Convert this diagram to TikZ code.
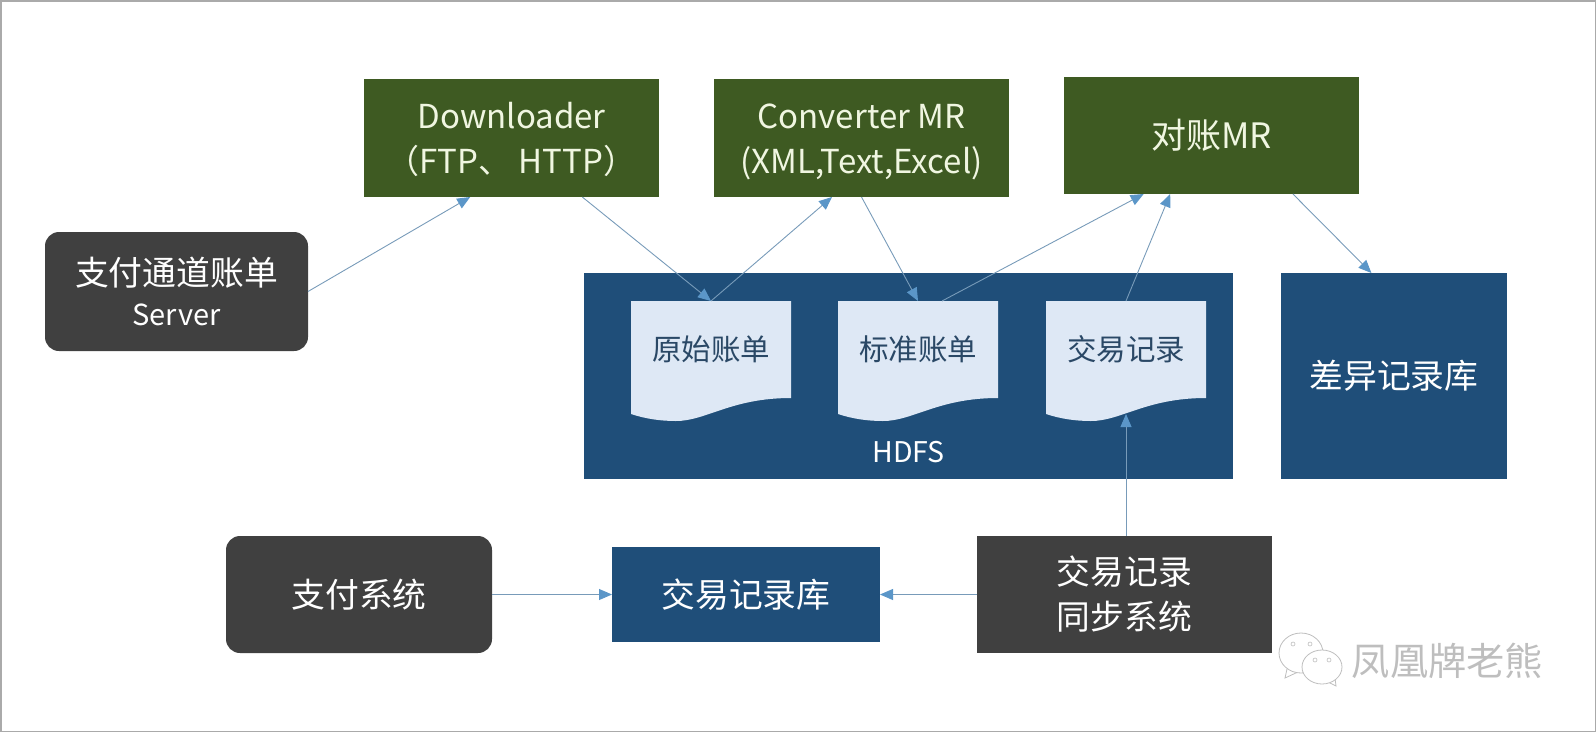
\documentclass[tikz,border=0pt]{standalone}
\usepackage{fontspec}
\setmainfont{Noto Sans CJK SC}
\usetikzlibrary{arrows.meta,calc}
\definecolor{grassgreen}{RGB}{62,90,34}
\definecolor{storeblue}{RGB}{31,78,121}
\definecolor{darkgray}{RGB}{64,64,64}
\definecolor{paleblue}{RGB}{222,232,245}
\definecolor{doctext}{RGB}{42,72,102}
\definecolor{linkline}{RGB}{120,155,185}
\definecolor{linkhead}{RGB}{91,150,200}
\definecolor{greentext}{RGB}{240,246,225}
\definecolor{framegray}{RGB}{170,170,170}
\definecolor{markgray}{RGB}{190,190,190}
\newcommand{\docpage}[3]{%
  \fill[paleblue] (#1,301) -- (#1+160,301) -- (#1+160,398) .. controls (#1+100,398) and (#1+75,421) .. (#1+45,421) .. controls (#1+30,421) and (#1+15,419) .. (#1,414) -- cycle;%
  \node[doclabel] (#2) at (#1+80,349.5) {#3};%
}
\tikzset{
  unit/.style={inner sep=0pt,outer sep=0pt,align=center,text=white,font=\fontsize{33.8}{45}\selectfont},
  greenbox/.style={unit,fill=grassgreen,text=greentext,minimum width=295,minimum height=118,font=\fontsize{33}{45}\selectfont},
  bluebox/.style={unit,fill=storeblue},
  darkbox/.style={unit,fill=darkgray,minimum height=117},
  roundbox/.style={darkbox,rounded corners=14},
  doclabel/.style={inner sep=0pt,outer sep=0pt,text=doctext,minimum width=160,minimum height=97,font=\fontsize{29.5}{35}\selectfont},
  arr/.style={-{Triangle[length=13,width=11,color=linkhead]},draw=linkline,line width=0.9pt},
  bubble/.style={draw=markgray,line width=0.8pt,fill=white}
}
\begin{document}
\begin{tikzpicture}[x=1pt,y=-1pt]
  \useasboundingbox (0,0) rectangle (1596,732);
  \draw[framegray,line width=1.5pt] (0.75,0.75) rectangle (1595.25,731.25);
  % top row
  \node[greenbox] (downloader) at (511.5,138) {\rule{0pt}{40pt}Downloader\\\strut（FTP、 HTTP）};
  \node[greenbox] (converter) at (861.5,138) {\rule{0pt}{40pt}Converter MR\\\strut (XML,Text,Excel)};
  \node[greenbox,minimum height=117,font=\fontsize{35}{44}\selectfont] (checkmr) at (1211.5,135.5) {对账MR};
  \node[roundbox,minimum width=263,minimum height=119] (server) at (176.5,291.5) {支付通道账单\\[-5pt]{\fontsize{29}{40}\selectfont Server}};
  % stores
  \node[bluebox,minimum width=649,minimum height=206] (hdfs) at (908.5,376) {};
  \node[unit,font=\fontsize{28.5}{30}\selectfont] (hdfslabel) at (908.5,452) {HDFS};
  \node[bluebox,minimum width=226,minimum height=206] (difflib) at (1394,376) {差异记录库};
  \docpage{631}{rawbill}{原始账单}
  \docpage{838}{stdbill}{标准账单}
  \docpage{1046}{traderec}{交易记录}
  \coordinate (tradewave) at ($(traderec.south)+(0,16)$);
  % bottom row
  \node[roundbox,minimum width=266] (paysys) at (359,594.5) {支付系统};
  \node[bluebox,minimum width=268,minimum height=95] (tradelib) at (746,594.5) {交易记录库};
  \node[darkbox,minimum width=295] (syncsys) at (1124.5,594.5) {交易记录\\同步系统};
  % links
  \draw[arr] (server.east) -- ($(downloader.south west)!0.36!(downloader.south east)$);
  \draw[arr] ($(downloader.south west)!0.74!(downloader.south east)$) -- (rawbill.north);
  \draw[arr] (rawbill.north) -- ($(converter.south west)!0.4!(converter.south east)$);
  \draw[arr] (converter.south) -- (stdbill.north);
  \draw[arr] ($(stdbill.north west)!0.65!(stdbill.north east)$) -- ($(checkmr.south west)!0.27!(checkmr.south east)$);
  \draw[arr] (traderec.north) -- ($(checkmr.south west)!0.36!(checkmr.south east)$);
  \draw[arr] ($(checkmr.south west)!0.776!(checkmr.south east)$) -- ($(difflib.north west)!0.4!(difflib.north east)$);
  \draw[arr] (syncsys.north -| tradewave) -- (tradewave);
  \draw[arr] (paysys.east) -- (tradelib.west);
  \draw[arr] (syncsys.west) -- (tradelib.east);
  % watermark
  \draw[bubble] (1287,669) -- (1285,678) -- (1298,672);
  \draw[bubble] (1301,653) ellipse (22 and 20);
  \draw[bubble] (1328,682) -- (1336,686) -- (1335,678);
  \draw[bubble] (1322,667) ellipse (20 and 17);
  \foreach \mx/\my in {1293/644,1310/644,1315/660,1329/660}
    \draw[markgray,line width=0.6pt] (\mx,\my) circle (2);
  \node[inner sep=0pt,text=markgray,font=\fontsize{38.3}{40}\selectfont] (marktext) at (1447.5,661) {凤凰牌老熊};
\end{tikzpicture}
\end{document}
